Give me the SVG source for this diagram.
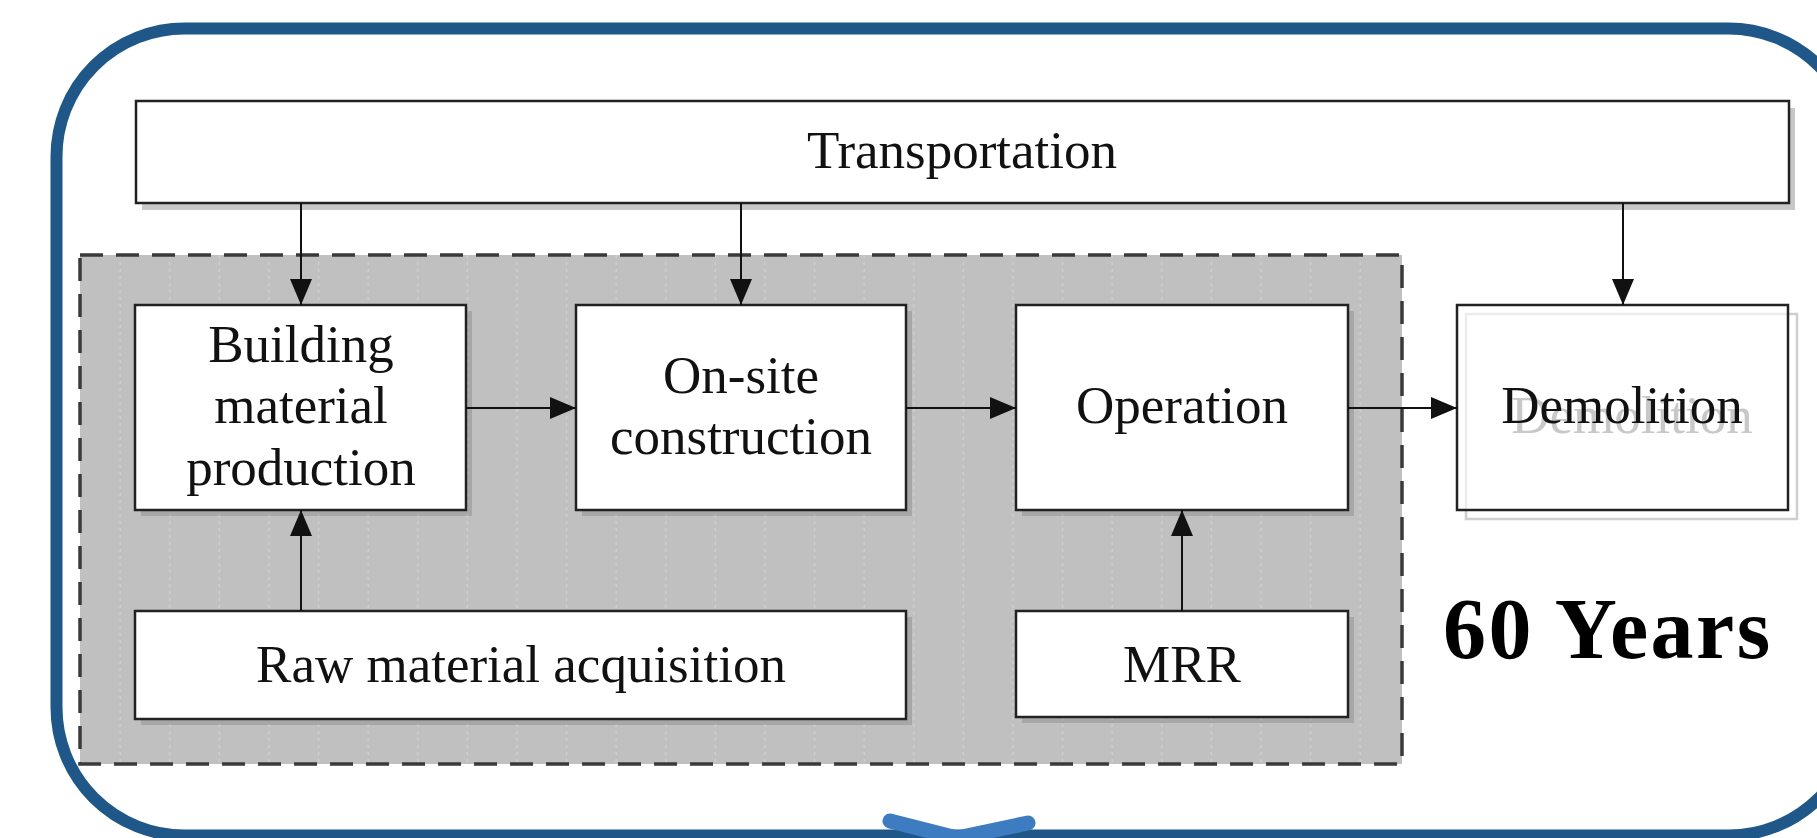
<svg xmlns="http://www.w3.org/2000/svg" width="1817" height="838" viewBox="0 0 1817 838">
<style>
.box{fill:#fff;stroke:#222;stroke-width:2.5}
.shadow{fill:#000;opacity:0.13}
.lbl{font-family:"Liberation Serif","Times New Roman",serif;font-size:53px;fill:#111;text-anchor:middle}
.edge{stroke:#111;stroke-width:2;fill:none;marker-end:url(#arr)}
</style>
<defs>
<marker id="arr" markerUnits="userSpaceOnUse" markerWidth="26" markerHeight="22" refX="26" refY="11" orient="auto">
<path d="M0,0 L26,11 L0,22 z" fill="#111"/>
</marker>
<pattern id="dots" patternUnits="userSpaceOnUse" x="80" y="255" width="49.6" height="7">
<rect width="49.6" height="7" fill="#c0c0c0"/>
<rect x="39.5" y="0" width="1.4" height="3" fill="#d0d0d0"/>
</pattern>
</defs>
<rect id="frame" x="56.5" y="28.5" width="1800" height="807" rx="128" ry="128" fill="#fff" stroke="#1f5888" stroke-width="12"/>
<g id="lifecycle-region">
<rect x="80" y="255" width="1322" height="509" fill="url(#dots)" stroke="#3a3a3a" stroke-width="3.5" stroke-dasharray="23 13"/>
</g>
<g id="transportation">
<rect x="142" y="108" width="1653" height="102" fill="#c8c8c8"/>
<rect class="box" x="136" y="101" width="1653" height="102"/>
<text class="lbl" x="962" y="168">Transportation</text>
</g>
<g id="building-material-production">
<rect class="shadow" x="141" y="311" width="331" height="205"/>
<rect class="box" x="135" y="305" width="331" height="205"/>
<text class="lbl" x="301" y="362">Building</text>
<text class="lbl" x="301" y="423">material</text>
<text class="lbl" x="301" y="485">production</text>
</g>
<g id="on-site-construction">
<rect class="shadow" x="582" y="311" width="330" height="205"/>
<rect class="box" x="576" y="305" width="330" height="205"/>
<text class="lbl" x="741" y="393">On-site</text>
<text class="lbl" x="741" y="454">construction</text>
</g>
<g id="operation">
<rect class="shadow" x="1022" y="311" width="332" height="205"/>
<rect class="box" x="1016" y="305" width="332" height="205"/>
<text class="lbl" x="1182" y="423">Operation</text>
</g>
<g id="demolition">
<rect x="1466" y="314" width="331" height="205" fill="none" stroke="#cfcfcf" stroke-width="2.5"/>
<rect x="1457" y="305" width="331" height="205" fill="#fff" fill-opacity="0.6" stroke="#222" stroke-width="2.5"/>
<text class="lbl" x="1632" y="433" style="fill:#c8c8c8">Demolition</text>
<text class="lbl" x="1622" y="423">Demolition</text>
</g>
<g id="raw-material-acquisition">
<rect class="shadow" x="141" y="617" width="771" height="108"/>
<rect class="box" x="135" y="611" width="771" height="108"/>
<text class="lbl" x="521" y="682">Raw material acquisition</text>
</g>
<g id="mrr">
<rect class="shadow" x="1022" y="617" width="332" height="106"/>
<rect class="box" x="1016" y="611" width="332" height="106"/>
<text class="lbl" x="1182" y="682">MRR</text>
</g>
<g id="connectors">
<line class="edge" x1="301" y1="203" x2="301" y2="305"/>
<line class="edge" x1="741" y1="203" x2="741" y2="305"/>
<line class="edge" x1="1623" y1="203" x2="1623" y2="305"/>
<line class="edge" x1="466" y1="408" x2="576" y2="408"/>
<line class="edge" x1="906" y1="408" x2="1016" y2="408"/>
<line class="edge" x1="1348" y1="408" x2="1457" y2="408"/>
<line class="edge" x1="301" y1="611" x2="301" y2="510"/>
<line class="edge" x1="1182" y1="611" x2="1182" y2="510"/>
</g>
<g id="duration">
<text x="1443" y="658" font-family="'Liberation Serif','Times New Roman',serif" font-weight="bold" font-size="86" letter-spacing="2.5" fill="#000">60 Years</text>
</g>
<g id="chevron">
<polyline points="890,821 957,838 1028,823" fill="none" stroke="#3d7cc0" stroke-width="15" stroke-linecap="round" stroke-linejoin="round"/>
</g>
</svg>
